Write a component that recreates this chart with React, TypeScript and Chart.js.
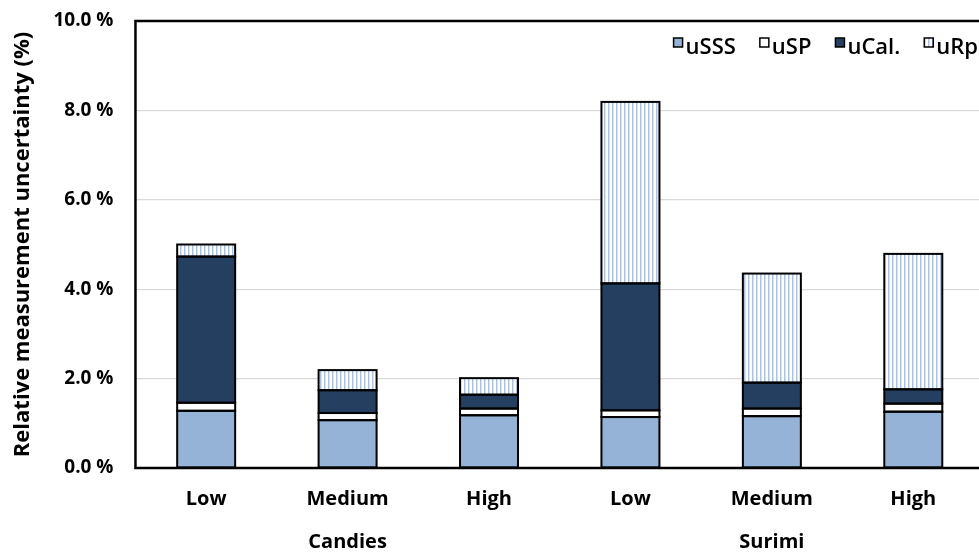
import React, { useEffect, useRef } from "react";
import { Chart, registerables } from "chart.js";

Chart.register(...registerables);

// Stacked components of relative measurement uncertainty (%)
const levels = ["Low", "Medium", "High", "Low", "Medium", "High"];
const groups = ["Candies", "Surimi"];
const uSSS = [1.28, 1.07, 1.18, 1.14, 1.16, 1.26];
const uSP = [0.18, 0.16, 0.15, 0.15, 0.17, 0.18];
const uCal = [3.27, 0.51, 0.31, 2.84, 0.58, 0.32];
const uRp = [0.27, 0.45, 0.37, 4.06, 2.44, 3.03];
const yTicks = [0, 2, 4, 6, 8, 10];

const FONT = "'Open Sans', 'Noto Sans', sans-serif";

function makeStripes(ctx: CanvasRenderingContext2D): CanvasPattern | string {
  const c = document.createElement("canvas");
  c.width = 4;
  c.height = 4;
  const g = c.getContext("2d");
  if (!g) return "#dbe5f1";
  g.fillStyle = "#ffffff";
  g.fillRect(0, 0, 4, 4);
  g.fillStyle = "#a9c1e2";
  g.fillRect(0, 0, 1, 4);
  g.fillStyle = "#d8e3f2";
  g.fillRect(1, 0, 1, 4);
  return ctx.createPattern(c, "repeat") || "#dbe5f1";
}

// Outlines every bar segment with a centred 2px stroke, frames the plot
// area and draws the legend in its top-right corner.
const outline = {
  id: "outline",
  afterDatasetsDraw(chart: Chart) {
    const { ctx, chartArea } = chart;
    ctx.save();
    ctx.strokeStyle = "#000";
    ctx.lineWidth = 2;
    chart.data.datasets.forEach((_, i) => {
      const meta = chart.getDatasetMeta(i);
      meta.data.forEach((el: any) => {
        const { x, y, base, width } = el.getProps(["x", "y", "base", "width"], true);
        ctx.strokeRect(x - width / 2, y, width, base - y);
      });
    });

    ctx.lineWidth = 2.5;
    ctx.strokeRect(chartArea.left, chartArea.top, chartArea.right - chartArea.left, chartArea.bottom - chartArea.top);

    // legend
    ctx.font = `600 22px ${FONT}`;
    ctx.textBaseline = "alphabetic";
    ctx.textAlign = "left";
    const box = 9;
    const gap = 24;
    const items = chart.data.datasets.map((d: any) => ({ label: d.label as string, fill: d.backgroundColor }));
    const widths = items.map((it) => box + 3 + ctx.measureText(it.label).width);
    const total = widths.reduce((a, b) => a + b, 0) + gap * (items.length - 1);
    let bx = 978 - total;
    const by = chartArea.top + 17;
    items.forEach((it, k) => {
      ctx.fillStyle = it.fill;
      ctx.fillRect(bx, by, box, box);
      ctx.lineWidth = 1.5;
      ctx.strokeStyle = "#000";
      ctx.strokeRect(bx, by, box, box);
      ctx.fillStyle = "#000";
      ctx.fillText(it.label, bx + box + 3, by + 16);
      bx += widths[k] + gap;
    });
    ctx.restore();
  },
};

export default function App() {
  const ref = useRef<HTMLCanvasElement>(null);

  useEffect(() => {
    document.body.style.margin = "0";
    document.body.style.overflow = "hidden";
    const canvas = ref.current;
    if (!canvas) return;
    const ctx = canvas.getContext("2d");
    if (!ctx) return;
    const stripes = makeStripes(ctx);

    const common = { borderWidth: 0 };
    const chart = new Chart(ctx, {
      type: "bar",
      data: {
        labels: levels,
        datasets: [
          { label: "uSSS", data: uSSS, backgroundColor: "#95b3d7", ...common },
          { label: "uSP", data: uSP, backgroundColor: "#ffffff", ...common },
          { label: "uCal.", data: uCal, backgroundColor: "#243f60", ...common },
          { label: "uRp", data: uRp, backgroundColor: stripes as any, ...common },
        ],
      },
      options: {
        animation: false,
        responsive: false,
        layout: { padding: { top: 21, right: 16, left: 10, bottom: 2 } },
        datasets: { bar: { barPercentage: 0.41, categoryPercentage: 1 } },
        plugins: {
          tooltip: { enabled: false },
          legend: { display: false },
        },
        scales: {
          x: {
            stacked: true,
            grid: { display: false },
            border: { display: false },
            ticks: { color: "#000", padding: 11, font: { family: FONT, size: 20, weight: "bold" } },
          },
          x2: {
            type: "category",
            labels: groups,
            position: "bottom",
            offset: true,
            grid: { display: false },
            border: { display: false },
            ticks: { color: "#000", padding: 0, font: { family: FONT, size: 20, weight: "bold" } },
          },
          y: {
            stacked: true,
            min: 0,
            max: 10,
            afterBuildTicks: (axis: any) => {
              axis.ticks = yTicks.map((v) => ({ value: v }));
            },
            grid: {
              drawTicks: true,
              tickLength: 19,
              tickColor: "rgba(0,0,0,0)",
              lineWidth: 1.2,
              color: (c: any) => (c.tick && (c.tick.value === 0 || c.tick.value === 10) ? "rgba(0,0,0,0)" : "#d9d9d9"),
            },
            border: { display: false },
            ticks: {
              color: "#000",
              padding: 3,
              font: { family: FONT, size: 19, weight: "bold" },
              callback: (v: any) => Number(v).toFixed(1) + " %",
            },
            title: {
              display: true,
              text: "Relative measurement uncertainty (%)",
              color: "#000",
              padding: { top: 0, bottom: 14 },
              font: { family: FONT, size: 22, weight: "bold" },
            },
          },
        },
      },
      plugins: [outline],
    });
    return () => chart.destroy();
  }, []);

  return (
    <div style={{ width: 1000, height: 552, overflow: "hidden" }}>
      <canvas ref={ref} width={1000} height={556} style={{ display: "block" }} />
    </div>
  );
}
